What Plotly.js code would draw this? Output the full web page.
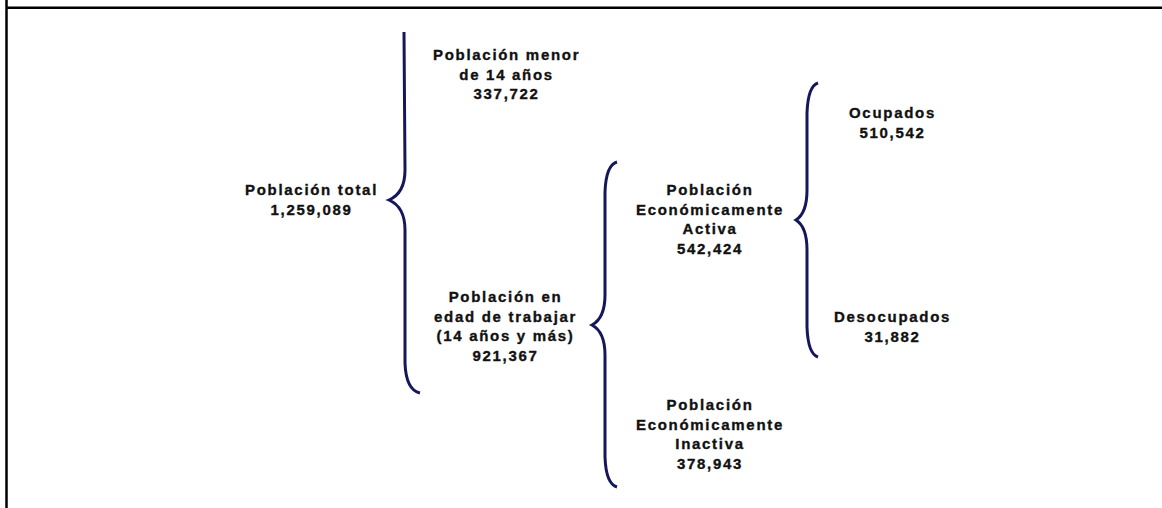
<!DOCTYPE html>
<html>
<head>
<meta charset="utf-8">
<script src="https://cdn.plot.ly/plotly-3.0.1.min.js"></script>
<style>
  html, body { margin: 0; padding: 0; background: #ffffff; }
  #chart { width: 1162px; height: 508px; }
  .annotation-text { letter-spacing: 1.7px; stroke: #111111; stroke-width: 0.35px; }
</style>
</head>
<body>
<div id="chart"></div>
<script>
// ---- data ----
const nodeLabels = [
  "Población total",
  "Población menor<br>de 14 años",
  "Población en<br>edad de trabajar<br>(14 años y más)",
  "Población<br>Económicamente<br>Activa",
  "Población<br>Económicamente<br>Inactiva",
  "Ocupados",
  "Desocupados"
];
const nodeValues = [1259089, 337722, 921367, 542424, 378943, 510542, 31882];

// ---- layout positions (pixel space of the canvas) ----
const nodeX = [311, 506, 505, 710, 710, 892, 892];
const nodeY = [199.5, 74, 325.5, 218.5, 433.5, 122, 326];

// braces: vertical x, point x, top y, middle y, bottom y, curl top, curl width
const braceXV   = [405, 605, 807];
const braceXP   = [389, 592, 796];
const braceYT   = [32, 162, 83];
const braceYM   = [200, 325, 220];
const braceYB   = [393, 487, 357];
const braceCurlTop = [false, true, true];
const braceCurlW   = [15, 12, 11];

const braceColor = "#16175a";
const textColor = "#111111";

function fmt(v) { return v.toLocaleString("en-US"); }

function bracePath(i) {
  const xv = braceXV[i], xp = braceXP[i], yt = braceYT[i], ym = braceYM[i], yb = braceYB[i], cw = braceCurlW[i];
  let p = braceCurlTop[i]
    ? `M${xv + cw},${yt} Q${xv + 1},${yt + 3} ${xv},${yt + 30}`
    : `M${xv - 1},${yt}`;
  p += ` L${xv},${ym - 30} Q${xv},${ym - 7} ${xp},${ym} Q${xv},${ym + 7} ${xv},${ym + 30}`;
  p += ` L${xv},${yb - 30} Q${xv + 1},${yb - 3} ${xv + cw},${yb}`;
  return p;
}

const shapes = [];
for (let i = 0; i < braceXV.length; i++) {
  shapes.push({
    type: "path", xref: "x", yref: "y", path: bracePath(i),
    line: { color: braceColor, width: 3 }, fillcolor: "rgba(0,0,0,0)"
  });
}
// frame lines
shapes.push({ type: "line", xref: "x", yref: "y", x0: 6.5, x1: 6.5, y0: 0, y1: 508, line: { color: "#000", width: 2.5 } });
shapes.push({ type: "line", xref: "x", yref: "y", x0: 6, x1: 1162, y0: 7.8, y1: 7.8, line: { color: "#000", width: 2.5 } });

const annotations = nodeLabels.map((lab, i) => ({
  xref: "x", yref: "y", x: nodeX[i], y: nodeY[i],
  xanchor: "center", yanchor: "middle", align: "center",
  showarrow: false,
  text: "<b>" + lab + "<br>" + fmt(nodeValues[i]) + "</b>",
  font: { family: "Liberation Sans, Arial, sans-serif", size: 15, color: textColor }
}));

const data = [{
  type: "scatter", mode: "markers", x: [], y: [],
  hoverinfo: "skip", showlegend: false
}];

const layout = {
  width: 1162, height: 508,
  margin: { l: 0, r: 0, t: 0, b: 0, pad: 0 },
  paper_bgcolor: "#ffffff", plot_bgcolor: "#ffffff",
  xaxis: { range: [0, 1162], visible: false, fixedrange: true },
  yaxis: { range: [508, 0], visible: false, fixedrange: true },
  showlegend: false,
  shapes: shapes,
  annotations: annotations
};

Plotly.newPlot("chart", data, layout, { displayModeBar: false, staticPlot: true });
</script>
</body>
</html>
